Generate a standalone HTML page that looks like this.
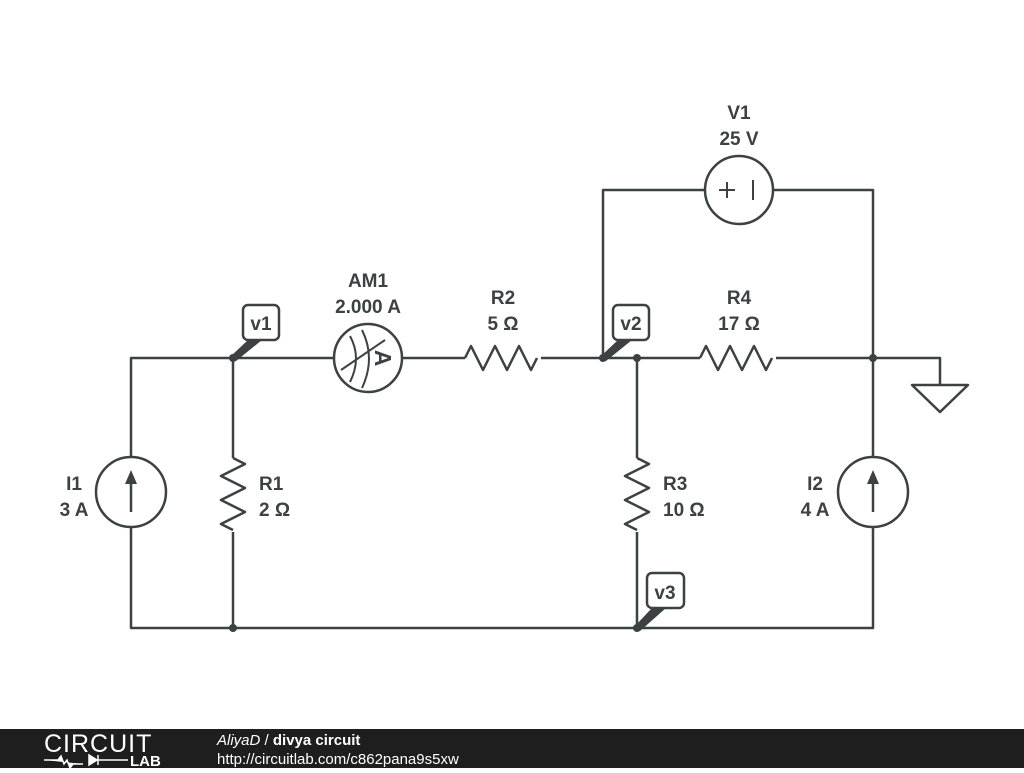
<!DOCTYPE html>
<html><head><style>
body{margin:0;width:1024px;height:768px;overflow:hidden;background:#fff;font-family:"Liberation Sans","DejaVu Sans",sans-serif}
</style></head><body>
<svg width="1024" height="768" viewBox="0 0 1024 768" xmlns="http://www.w3.org/2000/svg">
<g stroke="#3c4144" stroke-width="2.5" fill="none" stroke-linejoin="round">
<path d="M131 458 V358 H334 M402 358 H465 M541 358 H700 M776 358 H940 V385"/>
<path d="M131 526 V628 H873 V526 M873 458 V190 H773 M705 190 H603 V358"/>
<path d="M233 358 V458 M233 532 V628 M637 358 V458 M637 532 V628"/>
<path d="M465 358 l6 -12 l12 24 l12 -24 l12 24 l12 -24 l12 24 l6 -12"/>
<path d="M700 358 l6 -12 l12 24 l12 -24 l12 24 l12 -24 l12 24 l6 -12"/>
<path d="M233 458 l12 6 l-24 12 l24 12 l-24 12 l24 12 l-24 12 l12 6"/>
<path d="M637 458 l12 6 l-24 12 l24 12 l-24 12 l24 12 l-24 12 l12 6"/>
<circle cx="368" cy="358" r="34"/>
<circle cx="739" cy="190" r="34"/>
<circle cx="131" cy="492" r="35"/>
<circle cx="873" cy="492" r="35"/>
<path d="M912 385 H968 L940 412 Z"/>
<path d="M350 336 Q362 358 350 382 M362 330 Q376 358 362 388 M341 370 L385 340" stroke-width="2"/>
<path d="M719 190 h16 M727 182 v16 M753 180 v20" stroke-width="2"/>
<path d="M131 512 V478 M873 512 V478"/>
</g>
<g fill="#3c4144">
<path d="M131 470 l-6 14 h12 z"/><path d="M873 470 l-6 14 h12 z"/>
<circle cx="233" cy="358" r="4"/><circle cx="603" cy="358" r="4"/><circle cx="637" cy="358" r="4"/>
<circle cx="873" cy="358" r="4"/><circle cx="233" cy="628" r="4"/><circle cx="637" cy="628" r="4"/>
<path d="M231 356 L248 340 L262 340 L236 361 Z"/>
<path d="M601 356 L618 340 L632 340 L606 361 Z"/>
<path d="M635 626 L652 608 L666 608 L640 631 Z"/>
</g>
<text x="383" y="366" font-size="23" font-weight="bold" fill="#3c4144" text-anchor="middle" transform="rotate(90 383 358)">A</text>
<g fill="#fff" stroke="#3c4144" stroke-width="2.5">
<rect x="243" y="305" width="36" height="35" rx="5"/>
<rect x="613" y="305" width="36" height="35" rx="5"/>
<rect x="647" y="573" width="37" height="35" rx="5"/>
</g>
<g fill="#3c4144" font-size="19" font-weight="bold" text-anchor="middle">
<text x="261" y="330">v1</text><text x="631" y="330">v2</text><text x="665" y="599">v3</text>
<text x="368" y="287">AM1</text><text x="368" y="313">2.000 A</text>
<text x="503" y="304">R2</text><text x="503" y="330">5 Ω</text>
<text x="739" y="304">R4</text><text x="739" y="330">17 Ω</text>
<text x="739" y="119">V1</text><text x="739" y="145">25 V</text>
<text x="74" y="490">I1</text><text x="74" y="516">3 A</text>
<text x="815" y="490">I2</text><text x="815" y="516">4 A</text>
<text x="259" y="490" text-anchor="start">R1</text><text x="259" y="516" text-anchor="start">2 Ω</text>
<text x="663" y="490" text-anchor="start">R3</text><text x="663" y="516" text-anchor="start">10 Ω</text>
</g>
<rect x="0" y="729" width="1024" height="39" fill="#1e1e1e"/>
<text x="44" y="752" font-size="25" fill="#fff" font-weight="300" letter-spacing="1">CIRCUIT</text>
<path d="M44 760 h14 l3 -4 l3 8 l3 -4 l3 8 l3 -4 h10 M89 755 v10 l8 -5 z M98 755 v10 M98 760 h30" stroke="#fff" stroke-width="1.5" fill="#fff"/>
<text x="130" y="766" font-size="15" font-weight="bold" fill="#fff">LAB</text>
<text x="217" y="745" font-size="15" fill="#fff"><tspan font-style="italic">AliyaD</tspan> / <tspan font-weight="bold">divya circuit</tspan></text>
<text x="217" y="764" font-size="15" fill="#fff">http://circuitlab.com/c862pana9s5xw</text>
</svg>
</body></html>
